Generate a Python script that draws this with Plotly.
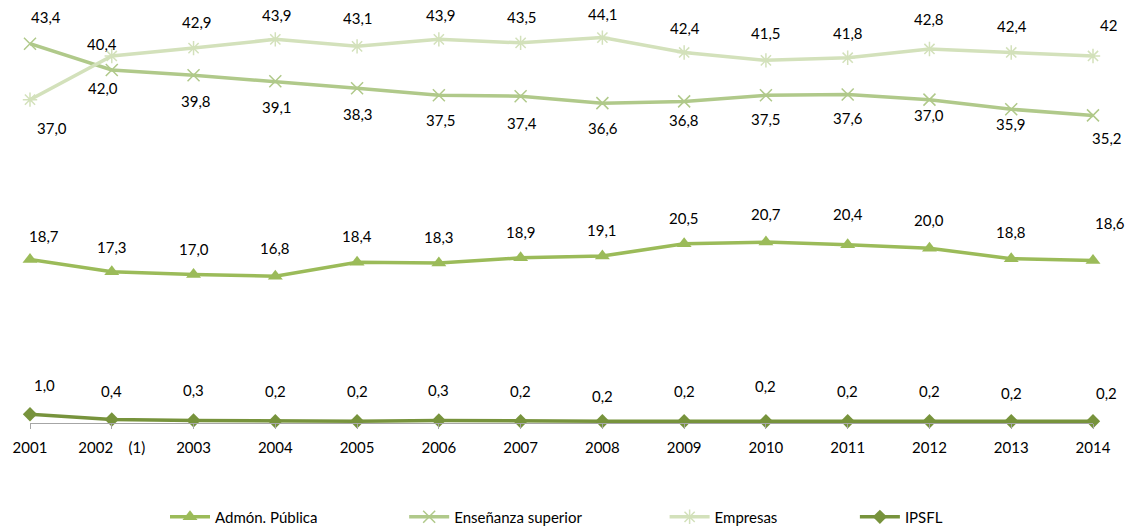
import plotly.graph_objects as go

years = list(range(2001, 2015))
year_labels = [str(y) for y in years]
year_labels[1] = "2002\u00a0\u00a0\u00a0\u00a0(1)"

admon = [18.7, 17.3, 17.0, 16.8, 18.4, 18.3, 18.9, 19.1, 20.5, 20.7, 20.4, 20.0, 18.8, 18.6]
ensenanza = [43.4, 40.4, 39.8, 39.1, 38.3, 37.5, 37.4, 36.6, 36.8, 37.5, 37.6, 37.0, 35.9, 35.2]
empresas = [37.0, 42.0, 42.9, 43.9, 43.1, 43.9, 43.5, 44.1, 42.4, 41.5, 41.8, 42.8, 42.4, 42.0]
ipsfl = [1.0, 0.4, 0.3, 0.2, 0.2, 0.3, 0.2, 0.2, 0.2, 0.2, 0.2, 0.2, 0.2, 0.2]


def fmt(v):
    return f"{v:.1f}".replace(".", ",")


admon_text = [fmt(v) for v in admon]
ipsfl_text = [fmt(v) for v in ipsfl]
ensenanza_text = ["43,4", "42,0", "39,8", "39,1", "38,3", "37,5", "37,4", "36,6", "36,8", "37,5", "37,6", "37,0", "35,9", "35,2"]
empresas_text = ["37,0", "40,4", "42,9", "43,9", "43,1", "43,9", "43,5", "44,1", "42,4", "41,5", "41,8", "42,8", "42,4", "42"]

# label offsets in pixels (dx right, dy down) relative to each point
admon_dx = [14, 0, 0, 0, 0, 0, 0, 0, 0, 0, 0, 0, 0, 17]
admon_dy = [-24, -25, -25, -28, -26, -26, -26, -26, -26, -28, -31, -28, -27, -37]
ens_dx = [16, -9, 2, 2, 1, 2, 1, 1, 0, 0, 0, 0, 0, 14]
ens_dy = [-27, 18, 26, 26, 26, 25, 27, 25, 19, 24, 24, 15, 15, 23]
emp_dx = [22, -10, 3, 2, 1, 2, 1, 1, 1, 0, 0, 0, 1, 15]
emp_dy = [28, -12, -26, -24, -28, -24, -26, -24, -24, -27, -25, -30, -26, -31]
ips_dx = [14, 0, 0, 0, 0, 0, 0, 0, 0, 0, 0, 0, 0, 13]
ips_dy = [-29, -29, -30, -30, -30, -30, -30, -25, -30, -35, -30, -30, -28, -28]

FONT = "Lato"
C_ADMON = "#9BBB59"
C_ENS = "#B0C98A"
C_EMP = "#D3E1BB"
C_IPS = "#77933C"

fig = go.Figure()
fig.add_trace(go.Scatter(
    x=years, y=admon, name="Admón. Pública", mode="lines+markers",
    line=dict(color=C_ADMON, width=3.5),
    marker=dict(symbol="triangle-up", size=13, color=C_ADMON),
    cliponaxis=False, legend="legend",
))
fig.add_trace(go.Scatter(
    x=years, y=ensenanza, name="Enseñanza superior", mode="lines+markers",
    line=dict(color=C_ENS, width=3.5),
    marker=dict(symbol="x-thin-open", size=12, line=dict(color=C_ENS, width=1.5)),
    cliponaxis=False, legend="legend2",
))
fig.add_trace(go.Scatter(
    x=years, y=empresas, name="Empresas", mode="lines+markers",
    line=dict(color=C_EMP, width=3.5),
    marker=dict(symbol="asterisk-open", size=12, line=dict(color=C_EMP, width=1.5)),
    cliponaxis=False, legend="legend3",
))
fig.add_trace(go.Scatter(
    x=years, y=ipsfl, name="IPSFL", mode="lines+markers",
    line=dict(color=C_IPS, width=3.5),
    marker=dict(symbol="diamond", size=11, color=C_IPS),
    cliponaxis=False, legend="legend4",
))

annotations = []
for vals, texts, dxs, dys in [
    (admon, admon_text, admon_dx, admon_dy),
    (ensenanza, ensenanza_text, ens_dx, ens_dy),
    (empresas, empresas_text, emp_dx, emp_dy),
    (ipsfl, ipsfl_text, ips_dx, ips_dy),
]:
    for x, v, t, dx, dy in zip(years, vals, texts, dxs, dys):
        annotations.append(dict(
            x=x, y=v, xref="x", yref="y", text=t, showarrow=False,
            xanchor="center", yanchor="middle", xshift=dx, yshift=-dy,
            font=dict(family=FONT, size=15, color="#000000"),
        ))

leg_common = dict(orientation="h", yanchor="middle", y=-0.234, xanchor="left",
                  itemwidth=40,
                  font=dict(family=FONT, size=15, color="#000000"),
                  bgcolor="rgba(0,0,0,0)", borderwidth=0)

fig.update_layout(
    width=1134, height=527, autosize=False,
    margin=dict(l=30, r=41, t=21, b=104, autoexpand=False),
    paper_bgcolor="white", plot_bgcolor="white",
    font=dict(family=FONT, size=15, color="#000000"),
    showlegend=True,
    legend=dict(x=0.127, **leg_common),
    legend2=dict(x=0.352, **leg_common),
    legend3=dict(x=0.597, **leg_common),
    legend4=dict(x=0.776, **leg_common),
    annotations=annotations,
    xaxis=dict(
        range=[2001, 2014], tickvals=years, ticktext=year_labels,
        showgrid=False, zeroline=False, showline=True, linecolor="#A6A6A6", linewidth=1,
        ticks="outside", ticklen=5, tickcolor="#A6A6A6", ticklabelstandoff=6,
        tickfont=dict(family=FONT, size=15, color="#000000"),
    ),
    yaxis=dict(range=[0, 46], visible=False, showgrid=False, zeroline=False),
)

fig.write_html("out.html")
